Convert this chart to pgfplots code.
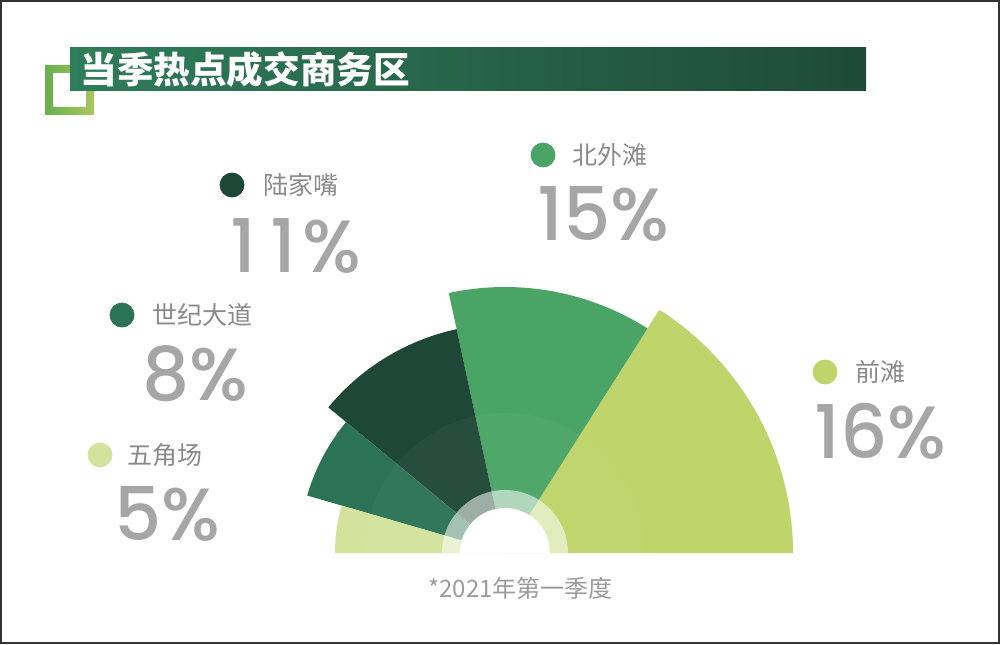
\documentclass[border=0pt]{standalone}
\usepackage{pgfplots}
\usepackage{pgfplotstable}
\pgfplotsset{compat=1.18}
\usepackage{fontspec}
\setmainfont{Noto Sans CJK SC}
\newfontfamily\numfont{Poppins Medium}[Numbers=Monospaced]

\definecolor{cWJC}{HTML}{D3E29C}
\definecolor{cSJ}{HTML}{2C7356}
\definecolor{cLJZ}{HTML}{1F4737}
\definecolor{cBWT}{HTML}{4AA465}
\definecolor{cQT}{HTML}{BFD46A}
\definecolor{titleL}{HTML}{2F7D5A}
\definecolor{titleR}{HTML}{1E4A37}
\definecolor{boxL}{HTML}{67B04F}
\definecolor{boxR}{HTML}{AAC660}
\definecolor{labgrey}{HTML}{8A8A8A}
\definecolor{numgrey}{HTML}{A6A6A6}
\definecolor{notegrey}{HTML}{9B9B9B}

% sector mark: angles and radius come from the table
\pgfdeclareplotmark{sector}{%
  \pgfpathmoveto{\pgfpointorigin}%
  \pgfpathlineto{\pgfpointpolar{\secA}{\secR pt}}%
  \pgfpatharc{\secA}{\secB}{\secR pt}%
  \pgfpathclose
  \pgfusepathqfill}
% upper half disc, radius = mark size
\pgfdeclareplotmark{halfdisc}{%
  \pgfpathmoveto{\pgfqpoint{\pgfplotmarksize}{0pt}}%
  \pgfpatharc{0}{180}{\pgfplotmarksize}%
  \pgfpathclose
  \pgfusepathqfill}

% value = share (%), start/end = angle in degrees, r = radius in px
\pgfplotstableread{
x   y  value start end   r   cls
505 91 16    0     57.6  288 e
505 91 15    57.6  102.2 266 d
505 91 11    102.2 140.5 229 c
505 91 8     140.5 163.8 206 b
505 91 5     163.8 180   170 a
}\sectors

\begin{document}
\begin{tikzpicture}
\begin{axis}[
  x=0.5pt, y=0.5pt,
  xmin=0, xmax=1000, ymin=0, ymax=644,
  hide axis, clip=false,
]
% title
\shade[left color=boxL, right color=boxR, even odd rule]
  (45,529) rectangle (94,579) (53,537) rectangle (86,571);
\shade[left color=titleL, right color=titleR] (70,553) rectangle (866,596);
\node[anchor=west, inner sep=0, text=white,
  font=\bfseries\fontsize{18.3}{20}\selectfont] at (80,574) {当季热点成交商务区};

% sectors
\addplot[scatter, only marks, mark=sector,
  scatter src=explicit symbolic,
  scatter/classes={a={cWJC}, b={cSJ}, c={cLJZ}, d={cBWT}, e={cQT}},
  visualization depends on={\thisrow{start} \as \secA},
  visualization depends on={\thisrow{end} \as \secB},
  visualization depends on={0.5*\thisrow{r} \as \secR},
] table[x=x, y=y, meta=cls] {\sectors};

% inner band, ring and hole
\addplot[only marks, mark=halfdisc, mark size=70pt,
  mark options={fill=white, fill opacity=0.035}] coordinates {(505,91)};
\addplot[only marks, mark=halfdisc, mark size=31.5pt,
  mark options={fill=white, fill opacity=0.55}] coordinates {(505,91)};
\addplot[only marks, mark=halfdisc, mark size=22.5pt,
  mark options={fill=white}] coordinates {(505,91)};

% legend dots
\addplot[only marks, mark=*, mark size=6pt, color=cLJZ] coordinates {(232,459)};
\addplot[only marks, mark=*, mark size=6pt, color=cSJ] coordinates {(122,329)};
\addplot[only marks, mark=*, mark size=6pt, color=cWJC] coordinates {(100,189)};
\addplot[only marks, mark=*, mark size=6pt, color=cBWT] coordinates {(543,489)};
\addplot[only marks, mark=*, mark size=6pt, color=cQT] coordinates {(825,272)};

% labels
\begin{scope}[every node/.style={anchor=west, inner sep=0, text=labgrey,
    font=\fontsize{12.5}{14}\selectfont}]
\node at (263,459) {陆家嘴};
\node at (152,329) {世纪大道};
\node at (127,189) {五角场};
\node at (572,489) {北外滩};
\node at (855,272) {前滩};
\end{scope}
\begin{scope}[every node/.style={anchor=base west, inner sep=0, text=numgrey,
    font=\numfont\fontsize{37}{40}\selectfont}]
\node at (230,372) {1\kern7pt1\kern3pt\%};
\node at (142,244) {8\%};
\node at (114,104) {5\%};
\node at (537,404) {15\%};
\node at (814,186) {16\%};
\end{scope}

\node[anchor=west, inner sep=0, text=notegrey, font=\fontsize{12}{14}\selectfont]
  at (428,56) {*2021年第一季度};

\draw[line width=1pt, color=black!80] (1,1) rectangle (999,643);
\end{axis}
\end{tikzpicture}
\end{document}
